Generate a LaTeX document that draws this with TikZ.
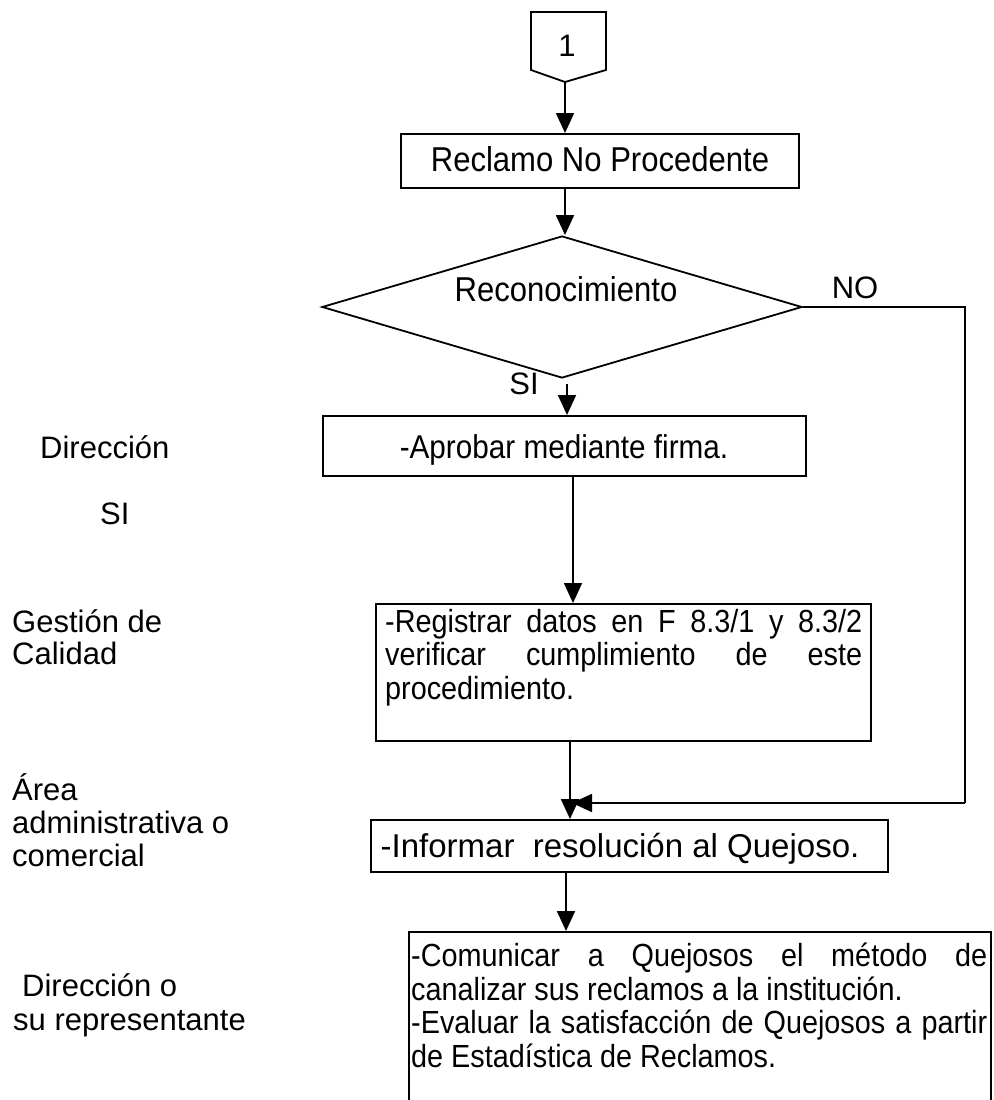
\documentclass[tikz,border=0pt]{standalone}
\usepackage{fontspec}
\setmainfont{Liberation Sans}
\newfontfamily\narrowfont{Liberation Sans}[FakeStretch=0.9]
\usetikzlibrary{arrows.meta,shapes.geometric}

\begin{document}
\begin{tikzpicture}[x=1pt,y=-1pt,
  every node/.style={font=\fontsize{31}{33}\selectfont, inner sep=0pt},
  frame/.style={draw, line width=1.8pt, anchor=north west},
  txt/.style={anchor=base},
  lbl/.style={anchor=base west},
  tall/.style={font=\narrowfont\fontsize{34.5}{36}\selectfont},
  boxtext/.style={font=\narrowfont\fontsize{32}{33.5}\selectfont, anchor=north west, align=left},
  line/.style={line width=1.8pt},
  flow/.style={line width=1.8pt, -{Triangle[length=20pt,width=18pt]}},
]
\useasboundingbox (0,0) rectangle (993,1100);
\clip (0,0) rectangle (993,1100);

% off-page connector
\draw[line width=1.8pt, line join=miter] (531,12) -- (606,12) -- (606,70) -- (565,82) -- (531,70) -- cycle;
\node[txt] (one) at (567,56) {1};
\coordinate (offtip) at (565,82);

% process boxes
\node[frame, minimum width=398pt, minimum height=54pt] (rec) at (400,133) {};
\node[txt, tall] (rectxt) at (600,171) {Reclamo No Procedente};

\node[diamond, draw, line width=1.8pt, minimum width=480pt, minimum height=142pt] (dia) at (562,307) {};
\node[txt, tall] (diatxt) at (566,301) {Reconocimiento};
\node[txt] (no) at (855,298) {NO};
\node[txt] (si) at (524,394) {SI};

\node[frame, minimum width=483pt, minimum height=60pt] (apr) at (322,415) {};
\node[txt, font=\narrowfont\fontsize{33}{35}\selectfont] (aprtxt) at (564,458) {-Aprobar mediante firma.};

\node[frame, minimum width=495pt, minimum height=137pt] (reg) at (375,603) {};
\node[boxtext] (regtxt) at (385,609) {%
  \makebox[477pt][s]{-Registrar datos en F 8.3/1 y 8.3/2}\\
  \makebox[477pt][s]{verificar cumplimiento de este}\\
  procedimiento.};

\node[frame, minimum width=517pt, minimum height=52pt] (inf) at (370,819) {};
\node[txt, font=\fontsize{33}{35}\selectfont] (inftxt) at (620,857) {-Informar \ resolución al Quejoso.};

\node[frame, minimum width=582pt, minimum height=220pt] (fin) at (408,931) {};
\node[boxtext] (fintxt) at (411,943) {%
  \makebox[576pt][s]{-Comunicar a Quejosos el método de}\\
  canalizar sus reclamos a la institución.\\
  \makebox[576pt][s]{-Evaluar la satisfacción de Quejosos a partir}\\
  de Estadística de Reclamos.};

% responsibility labels
\node[lbl] (l1) at (40,458) {Dirección};
\node[lbl] (l2) at (100,524) {SI};
\node[lbl] (l3) at (12,632) {Gestión de};
\node[lbl] (l4) at (12,664) {Calidad};
\node[lbl] (l5) at (12,800) {Área};
\node[lbl] (l6) at (12,833) {administrativa o};
\node[lbl] (l7) at (12,866) {comercial};
\node[lbl] (l8) at (22,996) {Dirección o};
\node[lbl] (l9) at (13,1030) {su representante};

% connectors
\draw[flow] (offtip) -- (offtip |- rec.north);
\draw[flow] (offtip |- rec.south) -- (dia.north -| offtip);
\coordinate (siout) at (567,384);
\draw[flow] (siout) -- (siout |- apr.north);
\coordinate (aprout) at (573,475);
\draw[flow] (aprout) -- (aprout |- reg.north);
\coordinate (regout) at (570,740);
\draw[flow] (regout) -- (regout |- inf.north);
\coordinate (corner) at (965,307);
\coordinate (join) at (572,803);
\draw[line] (dia.east) -- (corner) -- (corner |- join);
\draw[flow] (corner |- join) -- (join);
\coordinate (infout) at (566,871);
\draw[flow] (infout) -- (infout |- fin.north);
\end{tikzpicture}
\end{document}
